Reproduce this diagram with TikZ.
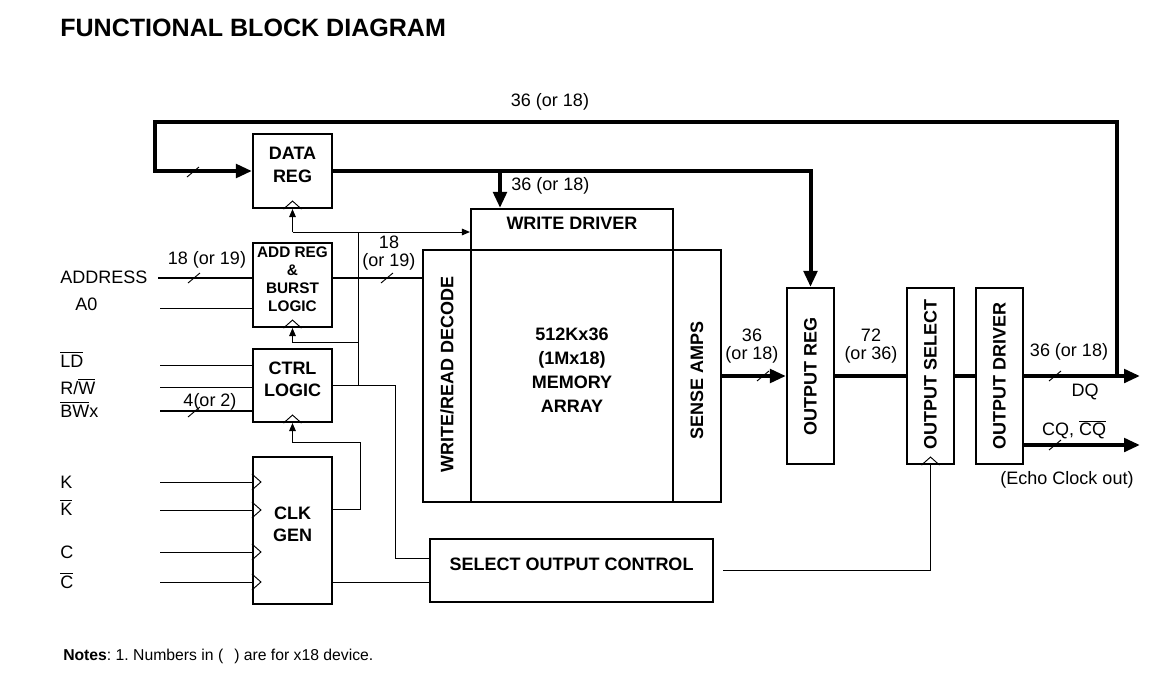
\documentclass[tikz,border=0pt]{standalone}
\usepackage{fontspec}
\setmainfont{Liberation Sans}
\usetikzlibrary{arrows.meta,positioning,fit,calc}
\tikzset{
	blk/.style={draw, line width=1.6pt, inner sep=0pt, align=center, font=\fontsize{13.5}{17}\selectfont\bfseries},
	vtxt/.style={rotate=90, inner sep=0pt, font=\fontsize{13.5}{17}\selectfont\bfseries},
	bus/.style={line width=3pt},
	abus/.style={line width=2.2pt},
	sig/.style={line width=0.7pt},
	bus arrow/.style={bus, -{Triangle[length=12pt,width=10pt]}},
	sig arrow/.style={sig, -{Triangle[length=6pt,width=5pt]}},
	lbl/.style={inner sep=0pt, align=center, font=\fontsize{13.5}{13.5}\selectfont},
}
\newcommand{\busmark}[1]{\draw[sig] (#1) ++(-6,5) -- ++(12,-10);}
\newcommand{\clkup}[1]{\draw[sig] (#1) ++(-9,0) -- ++(9,-8) -- ++(9,8);}
\newcommand{\clkin}[1]{\draw[sig] (#1) ++(0,-8) -- ++(9,8) -- ++(-9,8);}
\newcommand{\ovl}[1]{$\overline{\mbox{#1}}$}

\begin{document}
\begin{tikzpicture}[x=0.75pt,y=-0.75pt]
	\useasboundingbox (0,0) rectangle (1164,679);
	\node[anchor=base west, inner sep=0pt, font=\fontsize{18.8}{20}\selectfont\bfseries] (title) at (60,36) {FUNCTIONAL BLOCK DIAGRAM};

	\node[blk, fit={(253,134) (332,208)}] (datareg) {DATA\\REG};
	\node[blk, fit={(253,243) (332,327)}, font=\fontsize{11.5}{13.5}\selectfont\bfseries] (addreg) {ADD REG\\\&\\BURST\\LOGIC};
	\node[blk, fit={(253,349) (332,422)}] (ctrl) {CTRL\\LOGIC};
	\node[blk, fit={(253,457) (332,604)}] (clkgen) {CLK\\GEN};
	\node[blk, fit={(471,209) (673,250)}] (wrdrv) {WRITE DRIVER};
	\node[blk, fit={(423,250) (721,502)}] (mem) {};
	\node[blk, fit={(423,250) (471,502)}] (decode) {};
	\node[blk, fit={(673,250) (721,502)}] (sense) {};
	\node[blk, fit={(471,250) (673,502)}, font=\fontsize{13.5}{18}\selectfont\bfseries] (array) {512Kx36\\(1Mx18)\\MEMORY\\ARRAY};
	\node[blk, fit={(787,288) (834,464)}] (outreg) {};
	\node[blk, fit={(907,288) (954,464)}] (outsel) {};
	\node[blk, fit={(976,288) (1023,464)}] (outdrv) {};
	\node[blk, fit={(430,539) (713,602)}] (soc) {SELECT OUTPUT CONTROL};
	\node[vtxt] (decodet) at ([yshift=1.5pt]decode.center) {WRITE/READ DECODE};
	\node[vtxt] (senset) at ([yshift=-3pt]sense.center) {SENSE AMPS};
	\node[vtxt] (outregt) at (outreg.center) {OUTPUT REG};
	\node[vtxt] (outselt) at ([yshift=1.5pt]outsel.center) {OUTPUT SELECT};
	\node[vtxt] (outdrvt) at (outdrv.center) {OUTPUT DRIVER};
	\clkup{datareg.south} \clkup{addreg.south} \clkup{ctrl.south} \clkup{outsel.south}

	\node[lbl, anchor=base west] (addr) at (60,283) {ADDRESS};
	\node[lbl, anchor=base west] (a0) at (75,310) {A0};
	\node[lbl, anchor=base west] (ld) at (60,367) {\ovl{LD}};
	\node[lbl, anchor=base west] (rw) at (60,394) {R/\ovl{W}};
	\node[lbl, anchor=base west] (bw) at (60,417) {\ovl{BW}x};
	\node[lbl, anchor=base west] (k) at (60,488) {K};
	\node[lbl, anchor=base west] (kb) at (60,515) {\ovl{K}};
	\node[lbl, anchor=base west] (c) at (60,558) {C};
	\node[lbl, anchor=base west] (cb) at (60,588) {\ovl{C}};

	\coordinate (addrin) at (158,278);
	\coordinate (a0in) at (160,308);
	\coordinate (ldin) at (160,365);
	\coordinate (rwin) at (160,387);
	\coordinate (bwin) at (160,411);
	\coordinate (kin) at (160,482);
	\coordinate (kbin) at (160,510);
	\coordinate (cin) at (160,552);
	\coordinate (cbin) at (160,582);
	\draw[abus] (addrin) -- (addrin -| addreg.west);
	\busmark{194,278}
	\node[lbl] (addrw) at (207,260) {18 (or 19)};
	\draw[sig] (a0in) -- (a0in -| addreg.west);
	\draw[sig] (ldin) -- (ldin -| ctrl.west);
	\draw[sig] (rwin) -- (rwin -| ctrl.west);
	\draw[abus] (bwin) -- (bwin -| ctrl.west);
	\busmark{194,412}
	\node[lbl] (bww) at (210,402) {4(or 2)};
	\foreach \p in {kin,kbin,cin,cbin} {\draw[sig] (\p) -- (\p -| clkgen.west); \clkin{\p -| clkgen.west}}

	\draw[abus] (addrin -| addreg.east) -- (addrin -| mem.west);
	\busmark{387,278}
	\node[lbl] (decw) at (389,253.5) {18\\(or 19)};

	\coordinate (loopr) at (1117,122);
	\coordinate (loopl) at (155,122);
	\coordinate (dq) at (1140,376);
	\coordinate (cq) at (1140,445);
	\draw[bus arrow] (loopr |- dq) -- (loopr) -- (loopl) |- (datareg.west);
	\busmark{193,172}
	\node[lbl] (loopw) at (550,102) {36 (or 18)};
	\draw[bus arrow] (datareg.east) -| (outreg.north);
	\coordinate (wrbr) at (500,171);
	\draw[bus arrow] (wrbr) -- (wrbr |- wrdrv.north);
	\node[lbl, anchor=west] (wrw) at (511,186) {36 (or 18)};

	\draw[bus arrow] (mem.east) -- (outreg.west);
	\busmark{763,376}
	\node[lbl] (senw) at (752,346) {36\\(or 18)};
	\draw[bus] (outreg.east) -- (outsel.west);
	\node[lbl] (regw) at (871,346) {72\\(or 36)};
	\draw[bus] (outsel.east) -- (outdrv.west);
	\draw[bus arrow] (outdrv.east) -- (dq);
	\busmark{1055,376}
	\node[lbl] (dqw) at (1069,352) {36 (or 18)};
	\node[lbl] (dql) at (1085,392) {DQ};
	\draw[bus arrow] (outdrv.east |- cq) -- (cq);
	\busmark{1055,445}
	\node[lbl] (cql) at (1074,430) {CQ, \ovl{CQ}};
	\node[lbl] (echo) at (1067,480) {(Echo Clock out)};

	\coordinate (clkj) at (358,232);
	\coordinate (addj) at (358,342);
	\coordinate (ctrlj) at (360,442);
	\coordinate (soct) at ([yshift=9pt]soc.west);
	\coordinate (socb) at ([yshift=-9pt]soc.west);
	\draw[sig] (clkj) -- (clkj |- ctrl.east);
	\draw[sig arrow] (clkj -| datareg.south) -- (datareg.south);
	\draw[sig arrow] (clkj -| datareg.south) -- (clkj -| wrdrv.west);
	\draw[sig arrow] (addj) -| (addreg.south);
	\draw[sig] (ctrl.east) -| ([xshift=-25pt]soct) -- (soct);
	\draw[sig arrow] ([yshift=16pt]clkgen.east) -| (ctrlj) -| (ctrl.south);
	\draw[sig] (clkgen.east |- socb) -- (socb);
	\draw[sig] ([xshift=7pt]soc.east) -| (outsel.south);

	\node[anchor=base west, inner sep=0pt, font=\fontsize{11.8}{13}\selectfont\frenchspacing] (notes) at (63,660) {\textbf{Notes}: 1. Numbers in (\hspace{0.7em}) are for x18 device.};
\end{tikzpicture}
\end{document}
